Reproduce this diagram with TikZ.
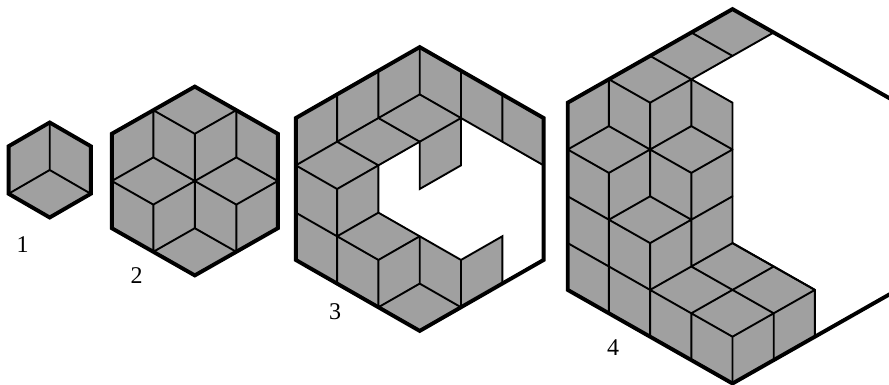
\documentclass[tikz,border=0pt]{standalone}
\usepackage{fontspec}
\setmainfont{Liberation Serif}
\definecolor{tilegray}{HTML}{A0A0A0}
\tikzset{
  tile/.style={fill=tilegray,draw=black,line width=1.9pt,line join=miter},
  edges/.style={draw=black,line width=1.9pt,line cap=round,line join=round},
  rim/.style={draw=black,line width=3.9pt,line join=miter},
  numlabel/.style={font=\fontsize{24}{24}\selectfont,inner sep=0pt,text=black}
}
\begin{document}
\begin{tikzpicture}[x=1pt,y=-1pt]
\useasboundingbox (0,0) rectangle (889,385);
\clip (0,0) rectangle (889,385);
% hexagon 1
\begin{scope}[shift={(49.7,170)},x=41.1pt,y=-23.75pt]
\fill[tilegray] (0,-2)--(1,-1)--(1,1)--(0,2)--(-1,1)--(-1,-1)--cycle;
\draw[edges] (0,-2)--(0,0) (-1,1)--(0,0)--(1,1);
\draw[rim] (0,-2)--(1,-1)--(1,1)--(0,2)--(-1,1)--(-1,-1)--cycle;
\end{scope}
% hexagon 2
\begin{scope}[shift={(194.8,181)},x=41.5pt,y=-23.6pt]
\fill[tilegray] (0,-4)--(2,-2)--(2,2)--(0,4)--(-2,2)--(-2,-2)--cycle;
\draw[edges] (-1,-3)--(0,-2)--(1,-3) (0,-2)--(0,0) (-1,-3)--(-1,-1) (1,-3)--(1,-1)
  (0,0)--(-1,-1)--(-2,0)--(-1,1)--(0,0) (0,0)--(1,-1)--(2,0)--(1,1)--(0,0)
  (-1,1)--(-1,3) (1,1)--(1,3) (0,0)--(0,2) (-1,3)--(0,2)--(1,3);
\draw[rim] (0,-4)--(2,-2)--(2,2)--(0,4)--(-2,2)--(-2,-2)--cycle;
\end{scope}
% hexagon 3
\begin{scope}[shift={(419.7,189)},x=41.3pt,y=-23.65pt]
\path[tile] (0,-6)--(3,-3)--(3,-1)--(1,-3)--(1,-1)--(0,0)--(0,-2)--(-1,-1)--(-1,1)--(0,2)--(1,3)--(2,2)--(2,4)--(0,6)--(-3,3)--(-3,-3)--cycle;
\draw[edges] (0,-6)--(0,-4) (1,-5)--(1,-3) (2,-4)--(2,-2) (-1,-5)--(-1,-3) (-2,-4)--(-2,-2)
  (1,-3)--(0,-4)--(-3,-1) (-1,-3)--(0,-2)--(1,-3) (-2,-2)--(-1,-1) (-3,-1)--(-2,0)--(-1,-1)
  (-2,0)--(-2,2) (-3,1)--(-2,2)--(-1,3)--(0,2) (-2,2)--(-1,1)
  (-2,2)--(-2,4) (-1,3)--(-1,5) (0,2)--(0,4) (1,3)--(1,5)
  (-1,5)--(0,4)--(1,5);
\draw[rim] (0,-6)--(3,-3)--(3,3)--(0,6)--(-3,3)--(-3,-3)--cycle;
\end{scope}
% hexagon 4
\begin{scope}[shift={(732.5,196.3)},x=41.2pt,y=-23.4pt]
\path[tile] (0,-8)--(1,-7)--(0,-6)--(-1,-5)--(0,-4)--(0,2)--(2,4)--(2,6)--(0,8)--(-4,4)--(-4,-4)--cycle;
\draw[edges] (-1,-7)--(0,-6) (-2,-6)--(-1,-5) (-3,-5)--(-2,-4)--(-1,-5)
  (-3,-5)--(-3,-3) (-1,-5)--(-1,-3) (-2,-4)--(-2,0)
  (-4,-2)--(-3,-3)--(-2,-2)--(-3,-1)--(-4,-2) (-2,-2)--(-1,-3)--(0,-2)--(-1,-1)--(-2,-2)
  (-3,-1)--(-3,5) (-1,-1)--(-1,3) (-1,5)--(-1,7)
  (-4,0)--(-3,1)--(-2,0)--(-1,1)--(0,0) (-3,1)--(-2,2)--(-1,1)
  (-4,2)--(-3,3)--(-2,4)--(-1,5)--(0,6)--(1,5)--(2,4)
  (-2,2)--(-2,6) (-2,4)--(-1,3)--(0,2) (-1,3)--(0,4)--(1,5)
  (-1,5)--(0,4)--(1,3)--(2,4) (0,2)--(1,3)
  (0,6)--(0,8) (1,5)--(1,7);
\draw[rim] (0,-8)--(4,-4)--(4,4)--(0,8)--(-4,4)--(-4,-4)--cycle;
\end{scope}
\node[numlabel] (labelone) at (22.7,245) {1};
\node[numlabel] (labeltwo) at (136.5,275.7) {2};
\node[numlabel] (labelthree) at (335,311.7) {3};
\node[numlabel] (labelfour) at (613,348) {4};
\end{tikzpicture}
\end{document}
